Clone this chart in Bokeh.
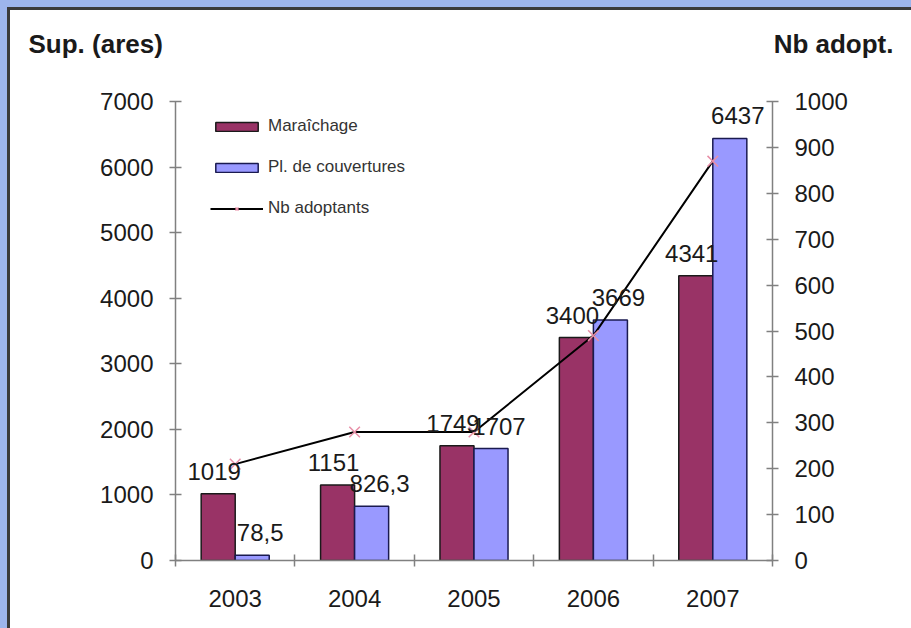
from bokeh.plotting import figure
from bokeh.models import (Range1d, LinearAxis, FixedTicker, ColumnDataSource, LabelSet,
                          Label, Legend, LegendItem)
from bokeh.transform import dodge
from bokeh.core.properties import value
from bokeh.embed import file_html
from bokeh.resources import INLINE

# ---- data ----
years = ["2003", "2004", "2005", "2006", "2007"]
maraichage = [1019, 1151, 1749, 3400, 4341]
couvertures = [78.5, 826.3, 1707, 3669, 6437]
adoptants = [210, 280, 280, 490, 870]
left_ticks = [0, 1000, 2000, 3000, 4000, 5000, 6000, 7000]
right_ticks = [0, 100, 200, 300, 400, 500, 600, 700, 800, 900, 1000]


def fr(v):
    return str(int(v)) if float(v).is_integer() else str(v).replace(".", ",")


W, H = 911, 628
FL, FR, FT, FB = 175, 772, 101, 560
FONT = "Liberation Sans"
MAROON = "#993366"
BLUE = "#9999ff"
AXC = "#808080"
BG = "#9db5ec"
EDGE = "#3a3a3a"

xs = list(range(len(years)))
src = ColumnDataSource(dict(
    x=xs, m=maraichage, c=couvertures, a=adoptants,
    ml=[fr(v) for v in maraichage], cl=[fr(v) for v in couvertures]))

p = figure(width=W, height=H, x_range=Range1d(-0.5, len(years) - 0.5),
           y_range=Range1d(0, 7000), output_backend="svg", toolbar_location=None,
           min_border_left=FL, min_border_right=W - FR, min_border_top=FT,
           min_border_bottom=H - FB, background_fill_color="white",
           border_fill_alpha=0, outline_line_color=None)
p.grid.visible = False
# page decoration: blue outer band + dark edge at top/left, white panel
p.styles = {"background": (
    f"linear-gradient({EDGE},{EDGE}) 7px 7px / 3px 100% no-repeat, "
    f"linear-gradient({EDGE},{EDGE}) 7px 7px / 100% 3px no-repeat, "
    f"linear-gradient(#ffffff,#ffffff) 10px 10px / 100% 100% no-repeat, {BG}")}

# bottom axis
xa = p.xaxis[0]
xa.ticker = FixedTicker(ticks=xs, minor_ticks=[i - 0.5 for i in range(len(years) + 1)])
xa.major_label_overrides = {i: y for i, y in zip(xs, years)}
xa.major_tick_line_color = None
xa.minor_tick_in = 6
xa.minor_tick_out = 6
xa.minor_tick_line_color = AXC
xa.minor_tick_line_width = 1.5
xa.axis_line_color = AXC
xa.axis_line_width = 1.5
xa.major_label_text_font = FONT
xa.major_label_text_font_size = "24px"
xa.major_label_text_color = "#1a1a1a"
xa.major_label_standoff = 23

# left & right axes
ya = p.yaxis[0]
ya.ticker = FixedTicker(ticks=left_ticks)
p.extra_y_ranges = {"nb": Range1d(0, 1000)}
ra = LinearAxis(y_range_name="nb", ticker=FixedTicker(ticks=right_ticks))
p.add_layout(ra, "right")
for ax in (ya, ra):
    ax.major_tick_in = 6
    ax.major_tick_out = 6
    ax.minor_tick_line_color = None
    ax.major_tick_line_color = AXC
    ax.major_tick_line_width = 1.5
    ax.axis_line_color = AXC
    ax.axis_line_width = 1.5
    ax.major_label_text_font = FONT
    ax.major_label_text_font_size = "24px"
    ax.major_label_text_color = "#1a1a1a"
    ax.major_label_standoff = 16

# bars
bw = 0.285
r1 = p.vbar(x=dodge("x", -bw / 2, range=p.x_range), top="m", width=bw, source=src,
            fill_color=MAROON, line_color="#1a1a1a", line_width=1.5)
r2 = p.vbar(x=dodge("x", bw / 2, range=p.x_range), top="c", width=bw, source=src,
            fill_color=BLUE, line_color="#1a1a50", line_width=1.5)

# line
rl = p.line(x="x", y="a", source=src, y_range_name="nb", line_color="black", line_width=2)
rs = p.scatter(x="x", y="a", source=src, y_range_name="nb", marker="x", size=15,
               line_color="#e890a8", line_width=1.5)

# value labels
for col, lab, off, xo in (("m", "ml", -bw / 2, -4), ("c", "cl", bw / 2, 8)):
    p.add_layout(LabelSet(x=dodge("x", off, range=p.x_range), y=col, text=lab, source=src,
                          x_offset=xo, y_offset=14, text_align="center",
                          text_baseline="alphabetic", text_font=value(FONT),
                          text_font_size="24px", text_color="#1a1a1a"))

# legend
leg = Legend(items=[LegendItem(label="Maraîchage", renderers=[r1]),
                    LegendItem(label="Pl. de couvertures", renderers=[r2]),
                    LegendItem(label="Nb adoptants", renderers=[rl, rs])],
             location=(35, 342), glyph_width=53, glyph_height=11, label_height=20,
             spacing=21, padding=0, margin=0, label_standoff=5,
             background_fill_alpha=0, border_line_alpha=0,
             label_text_font=FONT, label_text_font_size="17px", label_text_color="#333333")
p.add_layout(leg)

# axis titles (in the top side panel so they are not clipped; canvas y is top-down)
TY = 43
p.add_layout(Label(x=28, y=TY, x_units="canvas", y_units="canvas",
                   text="Sup. (ares)", text_font=FONT, text_font_size="26px",
                   text_font_style="bold", text_baseline="middle", text_color="#1a1a1a"),
             "above")
p.add_layout(Label(x=893, y=TY, x_units="canvas", y_units="canvas",
                   text="Nb adopt.", text_font=FONT, text_font_size="26px",
                   text_font_style="bold", text_baseline="middle", text_align="right",
                   text_color="#1a1a1a"), "above")

open("out.html", "w").write(file_html(p, INLINE))
